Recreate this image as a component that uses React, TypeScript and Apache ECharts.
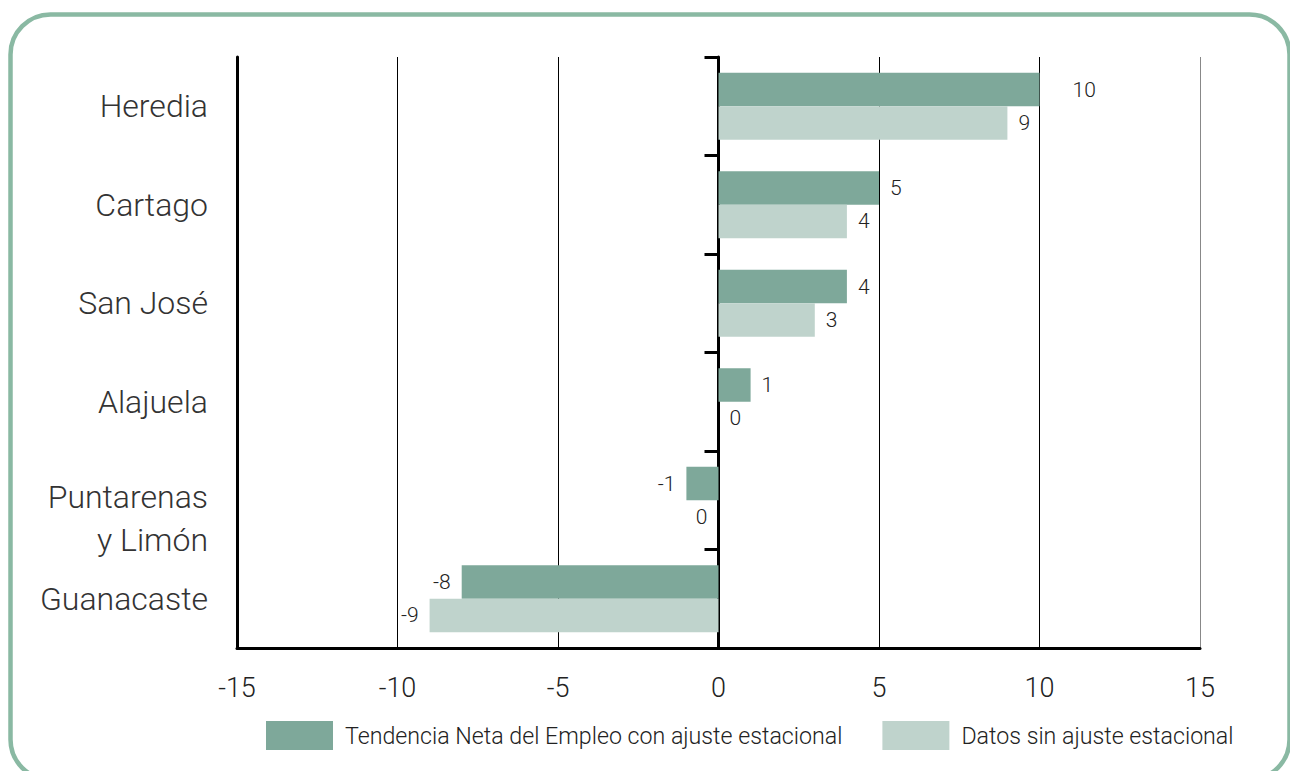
import React, { useEffect, useRef } from "react";
import * as echarts from "echarts";

const categories = ["Heredia", "Cartago", "San José", "Alajuela", "Puntarenas\ny Limón", "Guanacaste"];
const seasonallyAdjusted = [10, 5, 4, 1, -1, -8];
const unadjusted = [9, 4, 3, 0, 0, -9];
const seriesNames = ["Tendencia Neta del Empleo con ajuste estacional", "Datos sin ajuste estacional"];
const xMin = -15;
const xMax = 15;
const xInterval = 5;

const FONT = "Roboto";
const W = 300;
const DARK = "#7ea89a";
const LIGHT = "#bfd3cc";

export default function App() {
  const ref = useRef<HTMLDivElement>(null);
  useEffect(() => {
    if (!ref.current) return;
    const chart = echarts.init(ref.current, null, { renderer: "svg" });

    const makeData = (values: number[], isDark: boolean) =>
      values.map((v, i) => {
        const left = seasonallyAdjusted[i] < 0;
        return {
          value: v,
          label: {
            position: left ? "left" : "right",
            distance: isDark && i === 0 ? 33 : 11,
          },
        };
      });

    const labelStyle = {
      show: true,
      fontSize: 21,
      color: "#222",
      fontFamily: FONT,
      fontWeight: W,
      formatter: (p: any) => String(p.value),
    };

    chart.setOption({
      animation: false,
      textStyle: { fontFamily: FONT, fontWeight: W },
      graphic: [
        {
          type: "rect",
          silent: true,
          z: -1,
          shape: { x: 10.5, y: 14.5, width: 1279, height: 765, r: 40 },
          style: { fill: "none", stroke: "#8ab9a3", lineWidth: 4.5 },
        },
      ],
      grid: { left: 237, right: 90, top: 57, bottom: 123, containLabel: false },
      legend: {
        left: 266,
        top: 721,
        padding: 0,
        itemWidth: 67,
        itemHeight: 29,
        itemGap: 40,
        icon: "rect",
        textStyle: { fontSize: 23.2, color: "#222", fontFamily: FONT, fontWeight: W, padding: [0, 0, 0, 7] },
        data: seriesNames,
      },
      xAxis: {
        type: "value",
        min: xMin,
        max: xMax,
        interval: xInterval,
        axisLine: { show: true, onZero: false, lineStyle: { color: "#000", width: 3 } },
        axisTick: { show: false },
        splitLine: {
          show: true,
          lineStyle: { color: ["#000", "#000", "#000", "#000", "#000", "#000", "#888"], width: 1 },
        },
        axisLabel: { fontSize: 27, color: "#222", margin: 26, fontFamily: FONT, fontWeight: W },
      },
      yAxis: [
        {
          type: "category",
          data: categories,
          inverse: true,
          position: "left",
          axisLine: { show: true, onZero: false, lineStyle: { color: "#000", width: 3 } },
          axisTick: { show: false },
          splitLine: { show: false },
          axisLabel: {
            fontSize: 32,
            color: "#333",
            margin: 29,
            fontFamily: FONT,
            fontWeight: W,
            lineHeight: 43,
            formatter: (v: string) =>
              v.indexOf("\n") >= 0
                ? "{pad| }\n" + v.split("\n").map((s) => "{m|" + s + "}").join("\n")
                : v,
            rich: {
              pad: { fontSize: 10, lineHeight: 36 },
              m: { fontSize: 32, lineHeight: 43, color: "#333", fontFamily: FONT, fontWeight: W },
            },
          },
        },
        {
          type: "category",
          data: categories,
          inverse: true,
          position: "left",
          axisLine: { show: true, onZero: true, lineStyle: { color: "#000", width: 3 } },
          axisTick: { show: true, length: 14, lineStyle: { color: "#000", width: 3 } },
          axisLabel: { show: false },
          splitLine: { show: false },
        },
      ],
      series: [
        {
          name: seriesNames[0],
          type: "bar",
          yAxisIndex: 0,
          barGap: "0%",
          barCategoryGap: "32%",
          itemStyle: { color: DARK },
          label: labelStyle,
          data: makeData(seasonallyAdjusted, true),
        },
        {
          name: seriesNames[1],
          type: "bar",
          yAxisIndex: 0,
          barGap: "0%",
          barCategoryGap: "32%",
          itemStyle: { color: LIGHT },
          label: labelStyle,
          data: makeData(unadjusted, false),
        },
      ],
    });
    return () => chart.dispose();
  }, []);
  return (
    <div
      ref={ref}
      style={{ position: "fixed", left: 0, top: 0, width: 1290, height: 771, background: "#fff" }}
    />
  );
}
